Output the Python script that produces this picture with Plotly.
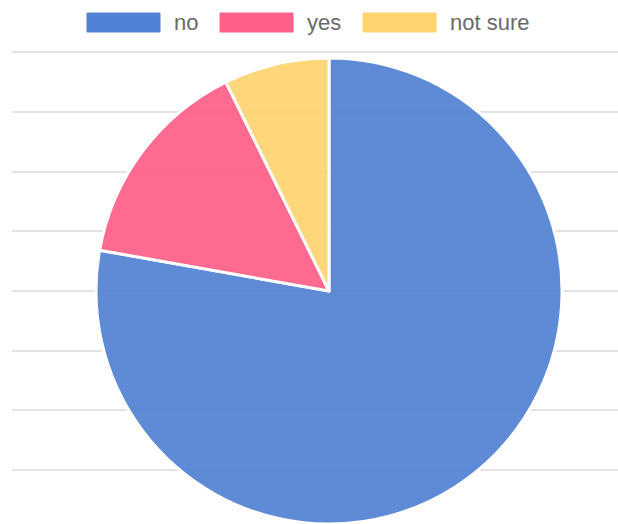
import plotly.graph_objects as go

labels = ["no", "yes", "not sure"]
values = [77.8, 14.9, 7.3]
colors = ["#5282d3", "#ff6088", "#fdd470"]

W, H = 618, 524
cx, cy, r = 329, 291, 234

fig = go.Figure()

# invisible cartesian traces so that the background grid is drawn
fig.add_trace(go.Scatter(x=[None], y=[None], showlegend=False, hoverinfo="skip"))
fig.add_trace(go.Scatter(x=[None], y=[None], xaxis="x2", yaxis="y2",
                         showlegend=False, hoverinfo="skip"))

fig.add_trace(go.Pie(
    labels=labels, values=values, sort=False, direction="clockwise", rotation=0,
    marker=dict(colors=colors, line=dict(color="white", width=3)),
    textinfo="none", showlegend=False, opacity=0.93,
    domain=dict(x=[(cx - r - 2) / W, (cx + r + 2) / W], y=[0, (2 * (H - cy)) / H]),
))

# grid: horizontal lines every 59.67 px
step = 59.67
y0_bottom = 54.0  # pixel from bottom of first grid line
fig.update_layout(
    xaxis=dict(domain=[12 / W, 1], range=[0, 1], showgrid=False, showticklabels=False,
               zeroline=False, showline=False, ticks="", fixedrange=True),
    yaxis=dict(range=[-y0_bottom / step, (H - y0_bottom) / step], dtick=1, tick0=0,
               showgrid=True, gridcolor="#e3e3e3", gridwidth=1.5, showticklabels=False,
               zeroline=False, showline=False, ticks="", fixedrange=True),
    xaxis2=dict(domain=[12 / W, 1], range=[0, 1], anchor="y2", showgrid=True,
                gridcolor="#e8e8e8", tickvals=[(cx - 12) / (W - 12)], showticklabels=False,
                zeroline=False, showline=False, ticks="", fixedrange=True),
    yaxis2=dict(domain=[0, (H - cy) / H], anchor="x2", range=[0, 1], showgrid=False,
                showticklabels=False, zeroline=False, showline=False, ticks="",
                fixedrange=True),
)

# legend drawn manually at the top
box_x = [87, 220, 363]
box_w, box_h = 73, 19
for lab, col, bx in zip(labels, colors, box_x):
    fig.add_shape(type="rect", xref="paper", yref="paper",
                  x0=bx / W, x1=(bx + box_w) / W, y0=1 - 32 / H, y1=1 - 13 / H,
                  fillcolor=col, line=dict(color=col, width=1), layer="above")
    fig.add_annotation(xref="paper", yref="paper", x=(bx + box_w + 12) / W, y=1 - 22.5 / H,
                       text=lab, showarrow=False, xanchor="left", yanchor="middle",
                       font=dict(family="Liberation Sans, Arial", size=22, color="#6a6a6a"))

fig.update_layout(
    width=W, height=H, margin=dict(l=0, r=0, t=0, b=0),
    paper_bgcolor="white", plot_bgcolor="rgba(0,0,0,0)", showlegend=False,
)

fig.write_html("out.html")
